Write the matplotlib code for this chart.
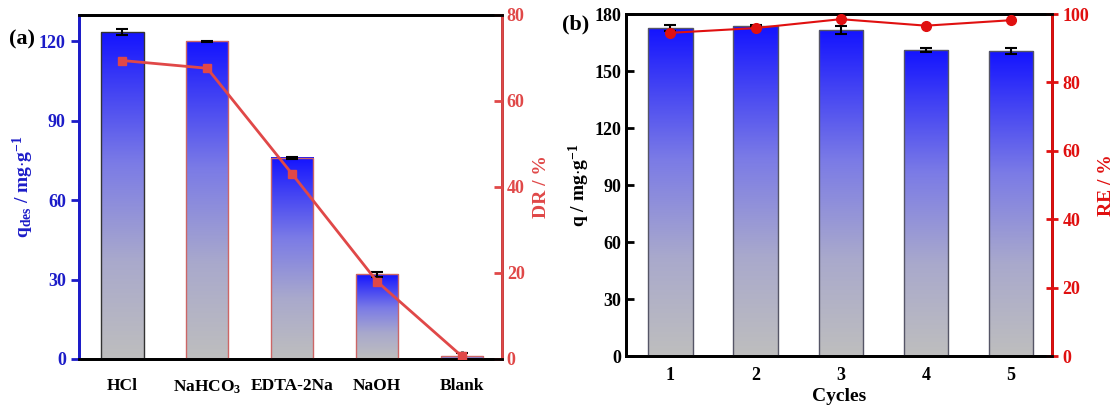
import numpy as np
import matplotlib
matplotlib.use("Agg")
import matplotlib.pyplot as plt
from matplotlib.colors import LinearSegmentedColormap

plt.rcParams["font.family"] = "Liberation Serif"
plt.rcParams["font.weight"] = "bold"
plt.rcParams["axes.labelweight"] = "bold"
plt.rcParams["mathtext.fontset"] = "custom"
plt.rcParams["mathtext.rm"] = "Liberation Serif:bold"
plt.rcParams["mathtext.bf"] = "Liberation Serif:bold"
plt.rcParams["mathtext.it"] = "Liberation Serif:bold"

# ---- panel (a) data ----
eluents = ["HCl", r"NaHCO$_3$", "EDTA-2Na", "NaOH", "Blank"]
q_des = [123.5, 120.0, 76.0, 32.0, 1.0]
q_des_err = [1.2, 0.3, 0.3, 1.0, 1.3]
dr = [69.4, 67.6, 43.0, 18.0, 0.6]

# ---- panel (b) data ----
cycles = ["1", "2", "3", "4", "5"]
q_cyc = [172.5, 173.5, 171.5, 161.0, 160.5]
q_cyc_err = [1.5, 0.5, 2.0, 1.0, 1.5]
re = [94.5, 95.9, 98.5, 96.6, 98.2]

BLUE = "#1c1cc8"
RED_A = "#e04848"
RED_B = "#e01010"

grad = LinearSegmentedColormap.from_list(
    "bar", [(0.0, "#bebebe"), (0.3, "#a9a9cc"), (0.6, "#7b7be6"),
            (0.85, "#3c3cf5"), (1.0, "#1414ff")])
g = np.linspace(0, 1, 256).reshape(-1, 1)


def gradient_bars(ax, values, errs, width, edgecolors):
    x = np.arange(len(values))
    bars = ax.bar(x, values, width, color="none", edgecolor=edgecolors,
                  linewidth=1.0, zorder=3)
    for b in bars:
        x0, y0 = b.get_x(), b.get_y()
        ax.imshow(g, cmap=grad, origin="lower", aspect="auto",
                  extent=(x0, x0 + b.get_width(), y0, y0 + b.get_height()),
                  zorder=2)
    ax.errorbar(x, values, yerr=errs, fmt="none", ecolor="black",
                elinewidth=1.5, capsize=4, capthick=1.5, zorder=4)
    return x


fig = plt.figure(figsize=(11.16, 4.13), dpi=100)

# ================= (a) =================
ax1 = fig.add_axes([0.0708, 0.1308, 0.379, 0.833])
x = gradient_bars(ax1, q_des, q_des_err, 0.5,
                  ["#333333", "#cc6666", "#cc6666", "#cc6666", "#cc6666"])
ax1.set_xlim(-0.51, 4.47)
ax1.set_ylim(0, 130)
ax1.set_xticks(x)
ax1.set_xticklabels(eluents, fontsize=12.5)
ax1.set_yticks([0, 30, 60, 90, 120])
ax1.tick_params(axis="x", direction="in", length=6, width=2, pad=14)
ax1.tick_params(axis="y", direction="out", length=6, width=2,
                colors=BLUE, labelsize=13)
ax1.spines["left"].set_color(BLUE)
for s in ax1.spines.values():
    s.set_linewidth(2)
ax1.set_ylabel(r"q$_{des}$ / mg$\cdot$g$^{-1}$", color=BLUE, fontsize=14,
               labelpad=2)

ax1r = ax1.twinx()
ax1r.plot(x, dr, color=RED_A, marker="s", markersize=6, linewidth=2, zorder=5)
ax1r.set_ylim(0, 80)
ax1r.set_yticks([0, 20, 40, 60, 80])
ax1r.tick_params(axis="y", direction="in", length=6, width=2,
                 colors=RED_A, labelsize=13)
ax1r.spines["right"].set_color(RED_A)
for s in ax1r.spines.values():
    s.set_linewidth(2)
ax1r.spines["left"].set_color(BLUE)
ax1r.set_ylabel("DR / %", color=RED_A, fontsize=14, labelpad=6)
ax1.text(-0.165, 0.93, "(a)", transform=ax1.transAxes, fontsize=16,
         ha="left", va="center")

# ================= (b) =================
ax2 = fig.add_axes([0.561, 0.138, 0.3817, 0.828])
x = gradient_bars(ax2, q_cyc, q_cyc_err, 0.52, "#555566")
ax2.set_xlim(-0.52, 4.48)
ax2.set_ylim(0, 180)
ax2.set_xticks(x)
ax2.set_xticklabels(cycles, fontsize=13)
ax2.set_yticks([0, 30, 60, 90, 120, 150, 180])
ax2.tick_params(axis="x", direction="in", length=6, width=2, pad=8)
ax2.tick_params(axis="y", direction="in", length=6, width=2, labelsize=13)
for s in ax2.spines.values():
    s.set_linewidth(2)
ax2.set_xlabel("Cycles", fontsize=14, labelpad=3)
ax2.set_ylabel(r"q / mg$\cdot$g$^{-1}$", fontsize=14, labelpad=2)

ax2r = ax2.twinx()
ax2r.plot(x, re, color=RED_B, marker="o", markersize=7, linewidth=1.5,
          zorder=5)
ax2r.set_ylim(0, 100)
ax2r.set_yticks([0, 20, 40, 60, 80, 100])
ax2r.tick_params(axis="y", direction="inout", length=8, width=2,
                 colors=RED_B, labelsize=13)
ax2r.spines["right"].set_color(RED_B)
for s in ax2r.spines.values():
    s.set_linewidth(2)
ax2r.set_ylabel("RE / %", color=RED_B, fontsize=14, labelpad=6)
ax2.text(-0.15, 0.97, "(b)", transform=ax2.transAxes, fontsize=16,
         ha="left", va="center")

fig.savefig("out.png", dpi=100)
